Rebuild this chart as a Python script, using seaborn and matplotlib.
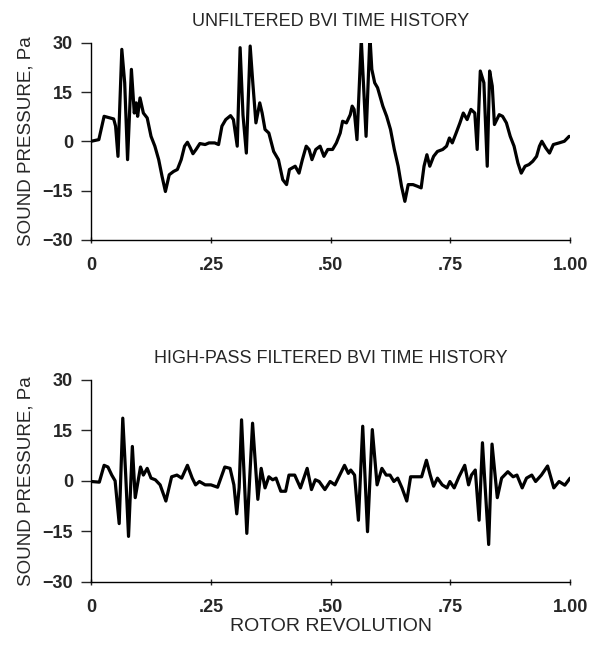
import matplotlib
matplotlib.use("Agg")
import matplotlib.pyplot as plt
import numpy as np
import pandas as pd
import seaborn as sns

# Rotor revolution vs sound pressure (Pa)
rev_unfiltered = [
    0.000, 0.016, 0.027, 0.039, 0.047, 0.051, 0.056, 0.064, 0.070, 0.076,
    0.084, 0.090, 0.094, 0.097, 0.102, 0.109, 0.117, 0.125, 0.133, 0.141,
    0.148, 0.155, 0.163, 0.172, 0.180, 0.188, 0.195, 0.201, 0.207, 0.2125,
    0.219, 0.227, 0.238, 0.246, 0.258, 0.266, 0.273, 0.281, 0.291, 0.297,
    0.305, 0.311, 0.317, 0.324, 0.332, 0.3375, 0.344, 0.352, 0.357, 0.363,
    0.371, 0.381, 0.391, 0.400, 0.408, 0.414, 0.426, 0.434, 0.441, 0.449,
    0.455, 0.461, 0.469, 0.478, 0.486, 0.494, 0.504, 0.512, 0.520, 0.525,
    0.533, 0.541, 0.545, 0.549, 0.555, 0.564, 0.574, 0.582, 0.586, 0.592,
    0.598, 0.603, 0.609, 0.617, 0.625, 0.633, 0.641, 0.648, 0.655, 0.662,
    0.672, 0.681, 0.689, 0.695, 0.701, 0.707, 0.715, 0.723, 0.734, 0.742,
    0.748, 0.754, 0.762, 0.770, 0.777, 0.785, 0.793, 0.801, 0.806, 0.8125,
    0.820, 0.827, 0.832, 0.8375, 0.842, 0.852, 0.859, 0.867, 0.875, 0.883,
    0.891, 0.898, 0.906, 0.914, 0.922, 0.930, 0.936, 0.941, 0.949, 0.957,
    0.965, 0.977, 0.988, 0.998,
]
p_unfiltered = [
    0.0, 0.5, 7.6, 7.1, 6.8, 4.6, -4.6, 28.0, 17.8, -5.6,
    21.9, 8.6, 11.7, 7.6, 13.2, 8.6, 7.1, 1.5, -1.5, -5.6,
    -10.7, -15.3, -10.2, -9.2, -8.6, -5.6, -1.5, -0.3, -2.0, -3.8,
    -2.5, -0.7, -1.0, -0.5, -0.5, -1.0, 4.6, 6.6, 7.8, 6.6,
    -1.5, 28.5, 8.0, -3.6, 29.0, 17.8, 5.6, 11.7, 8.6, 3.6,
    2.5, -3.1, -5.6, -11.7, -13.2, -8.6, -7.6, -9.7, -5.6, -1.5,
    -2.5, -5.6, -2.5, -1.5, -4.6, -2.5, -2.5, -0.5, 2.5, 6.1,
    5.6, 8.1, 10.7, 9.7, 0.5, 31.0, 1.5, 32.0, 21.9, 17.8,
    16.3, 13.7, 10.7, 7.6, 3.6, -2.5, -7.6, -13.7, -18.3, -13.2,
    -13.2, -13.7, -14.2, -7.6, -4.1, -7.6, -4.6, -3.1, -2.5, -1.5,
    1.0, -0.5, 2.5, 5.6, 8.6, 6.6, 9.7, 8.6, -2.5, 21.4,
    17.8, -7.6, 21.4, 16.8, 5.1, 8.1, 7.6, 5.6, 1.5, -1.5,
    -6.6, -9.7, -7.6, -7.1, -6.1, -4.6, -1.5, 0.0, -2.0, -3.6,
    -1.0, -0.5, 0.0, 1.5,
]

rev_filtered = [
    0.000, 0.017, 0.027, 0.035, 0.043, 0.050, 0.0585, 0.066, 0.072, 0.078,
    0.086, 0.092, 0.103, 0.109, 0.117, 0.125, 0.134, 0.144, 0.156, 0.168,
    0.179, 0.189, 0.201, 0.211, 0.218, 0.226, 0.238, 0.250, 0.264, 0.273,
    0.279, 0.290, 0.298, 0.304, 0.309, 0.314, 0.325, 0.337, 0.348, 0.355,
    0.363, 0.371, 0.379, 0.386, 0.396, 0.406, 0.413, 0.425, 0.437, 0.451,
    0.460, 0.468, 0.476, 0.488, 0.499, 0.509, 0.519, 0.529, 0.537, 0.542,
    0.550, 0.558, 0.567, 0.577, 0.587, 0.597, 0.607, 0.616, 0.624, 0.632,
    0.640, 0.649, 0.659, 0.667, 0.679, 0.690, 0.700, 0.708, 0.715, 0.723,
    0.733, 0.743, 0.749, 0.758, 0.768, 0.780, 0.788, 0.794, 0.802, 0.810,
    0.817, 0.830, 0.837, 0.848, 0.857, 0.870, 0.881, 0.889, 0.900, 0.909,
    0.920, 0.928, 0.940, 0.953, 0.966, 0.977, 0.989, 1.000,
]
p_filtered = [
    -0.2, -0.4, 4.6, 4.1, 1.7, 0.0, -12.7, 18.6, 2.0, -16.5,
    10.2, -5.0, 4.1, 1.7, 3.7, 0.8, 0.3, -1.2, -6.0, 1.2,
    1.7, 0.8, 4.6, 0.8, -1.2, -0.2, -1.2, -1.2, -1.9, 1.7,
    4.1, 3.7, -1.2, -9.8, -2.0, 18.1, -15.6, 17.1, -5.5, 3.7,
    -2.1, 1.2, 0.3, 0.8, -3.1, -3.1, 1.7, 1.7, -2.1, 3.7,
    -2.6, 0.3, -0.2, -2.6, -0.2, -1.2, 1.7, 4.6, 2.2, 3.2,
    1.7, -11.7, 16.2, -15.1, 15.2, -1.2, 3.7, 1.7, 1.7, -0.2,
    0.8, -2.1, -6.0, 1.2, 1.2, 1.2, 6.1, 1.7, -1.6, 0.8,
    -1.2, -2.1, -0.2, -2.1, 1.2, 4.6, -1.2, 1.7, 3.2, -11.7,
    11.3, -18.9, 10.9, -5.0, 0.8, 2.7, 1.2, 1.7, -2.1, 0.8,
    1.7, -0.2, 1.7, 4.4, -2.1, -0.2, -1.3, 0.8,
]

y_ticks = [30, 15, 0, -15, -30]
x_ticks = [0, 0.25, 0.5, 0.75, 1.0]
x_tick_labels = ["0", ".25", ".50", ".75", "1.00"]
titles = ["UNFILTERED BVI TIME HISTORY", "HIGH-PASS FILTERED BVI TIME HISTORY"]

sns.set_style("ticks")
plt.rcParams["font.family"] = ["Liberation Sans", "DejaVu Sans"]

df_unf = pd.DataFrame({"rev": rev_unfiltered, "p": p_unfiltered})
df_flt = pd.DataFrame({"rev": rev_filtered, "p": p_filtered})

fig = plt.figure(figsize=(5.92, 6.48), dpi=100)
ax_top = fig.add_axes([0.154, 0.630, 0.809, 0.304])
ax_bot = fig.add_axes([0.154, 0.102, 0.809, 0.312])

for ax, df, title in [(ax_top, df_unf, titles[0]), (ax_bot, df_flt, titles[1])]:
    sns.lineplot(data=df, x="rev", y="p", ax=ax, color="black",
                 linewidth=2.3, sort=False, estimator=None)
    ax.set_xlim(0, 1.0)
    ax.set_ylim(-30, 30)
    ax.set_yticks(y_ticks)
    ax.set_xticks(x_ticks)
    ax.set_xticklabels(x_tick_labels)
    ax.tick_params(axis="y", direction="out", length=7, width=1,
                   labelsize=13, pad=6)
    ax.tick_params(axis="x", direction="inout", length=5, width=1,
                   labelsize=13, pad=10)
    for lbl in ax.get_xticklabels() + ax.get_yticklabels():
        lbl.set_fontweight("bold")
    ax.set_ylabel("SOUND PRESSURE, Pa", fontsize=13.5, labelpad=6)
    ax.set_xlabel("")
    ax.set_title(title, fontsize=13, pad=12)
    sns.despine(ax=ax)
    for side in ["left", "bottom"]:
        ax.spines[side].set_linewidth(1.0)
        ax.spines[side].set_color("black")

ax_bot.set_xlabel("ROTOR REVOLUTION", fontsize=14, labelpad=1)

fig.savefig("out.png", dpi=100)
